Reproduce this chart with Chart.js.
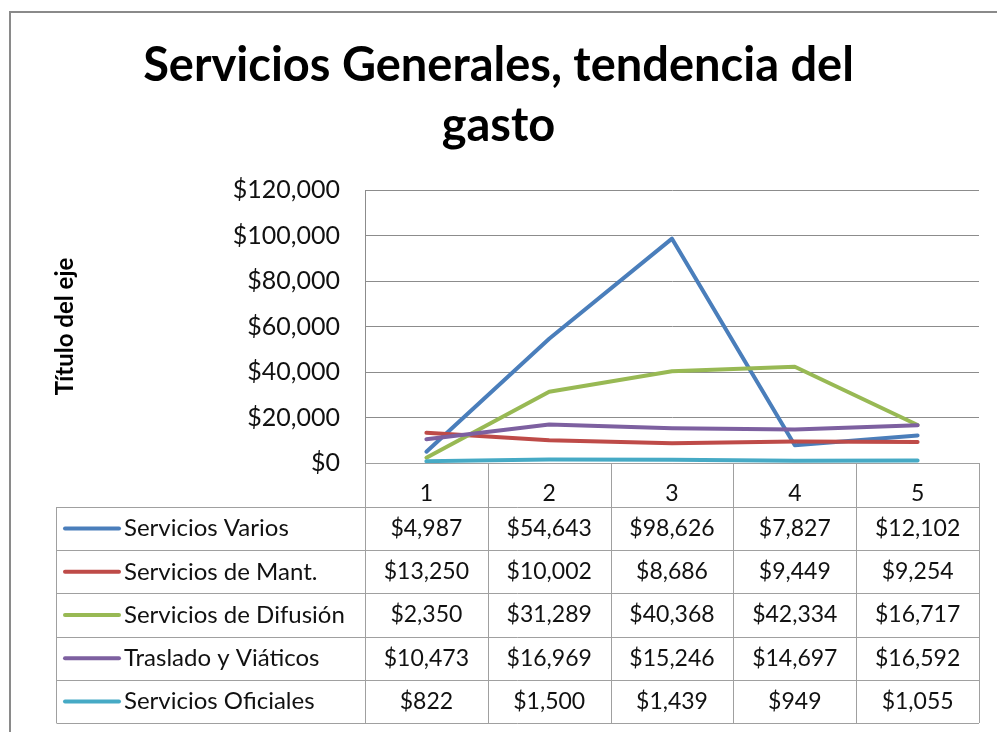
<!DOCTYPE html>
<html>
<head>
<meta charset="utf-8">
<script src="https://cdn.jsdelivr.net/npm/chart.js@4.4.0/dist/chart.umd.min.js"></script>
<style>
  html, body { margin: 0; padding: 0; background: #fff; }
  #wrap { position: relative; width: 997px; height: 732px; }
</style>
</head>
<body>
<div id="wrap"><canvas id="c" width="997" height="732"></canvas></div>
<script>
const categories = ['1', '2', '3', '4', '5'];
const seriesNames = ['Servicios Varios', 'Servicios de Mant.', 'Servicios de Difusión', 'Traslado y Viáticos', 'Servicios Oficiales'];
const serviciosVarios = [4987, 54643, 98626, 7827, 12102];
const serviciosMant = [13250, 10002, 8686, 9449, 9254];
const serviciosDifusion = [2350, 31289, 40368, 42334, 16717];
const trasladoViaticos = [10473, 16969, 15246, 14697, 16592];
const serviciosOficiales = [822, 1500, 1439, 949, 1055];
const seriesColors = ['#4A7EBB', '#BE4B48', '#98B954', '#7D60A0', '#46AAC5'];
const yTicks = [0, 20000, 40000, 60000, 80000, 100000, 120000];

const seriesValues = [serviciosVarios, serviciosMant, serviciosDifusion, trasladoViaticos, serviciosOficiales];
const FONT = 'Lato, "Open Sans", sans-serif';
const money = v => '$' + Number(v).toLocaleString('en-US');

const tablePlugin = {
  id: 'dataTable',
  beforeDraw(chart) {
    const ctx = chart.ctx;
    ctx.save();
    ctx.strokeStyle = '#8a8a8a';
    ctx.lineWidth = 2;
    ctx.strokeRect(10, 12, 1000, 800);
    ctx.restore();
  },
  afterDraw(chart) {
    const ctx = chart.ctx;
    const x = chart.scales.x;
    const area = chart.chartArea;
    const headTop = x.top;
    const headBottom = x.bottom;
    const rowH = 43.2;
    const tableLeft = 56.5;
    const n = seriesNames.length;
    const tableBottom = headBottom + rowH * n;
    const step = (area.right - area.left) / categories.length;
    ctx.save();
    ctx.strokeStyle = '#a0a0a0';
    ctx.lineWidth = 1;
    ctx.beginPath();
    for (let i = 0; i <= categories.length; i++) {
      const px = Math.round(area.left + i * step) + 0.5;
      ctx.moveTo(px, headTop);
      ctx.lineTo(px, tableBottom);
    }
    ctx.moveTo(tableLeft, headBottom);
    ctx.lineTo(tableLeft, tableBottom);
    for (let r = 0; r <= n; r++) {
      const py = Math.round(headBottom + r * rowH) + 0.5;
      ctx.moveTo(tableLeft, py);
      ctx.lineTo(area.right, py);
    }
    ctx.stroke();

    ctx.textBaseline = 'middle';
    for (let r = 0; r < n; r++) {
      const cy = headBottom + (r + 0.5) * rowH;
      ctx.strokeStyle = seriesColors[r];
      ctx.lineWidth = 4;
      ctx.lineCap = 'round';
      ctx.beginPath();
      ctx.moveTo(65, cy);
      ctx.lineTo(119, cy);
      ctx.stroke();
      ctx.fillStyle = '#111';
      ctx.textAlign = 'left';
      ctx.font = '24px ' + FONT;
      ctx.fillText(seriesNames[r], 124, cy);
      ctx.textAlign = 'center';
      ctx.font = '23px ' + FONT;
      seriesValues[r].forEach((v, i) => {
        ctx.fillText(money(v), x.getPixelForValue(i), cy);
      });
    }
    ctx.restore();
  }
};

const datasets = seriesNames.map((name, i) => ({
  label: name,
  data: seriesValues[i],
  borderColor: seriesColors[i],
  backgroundColor: seriesColors[i],
  borderWidth: 4,
  pointRadius: 0,
  pointHoverRadius: 0,
  tension: 0,
  borderCapStyle: 'round',
  borderJoinStyle: 'round',
  order: seriesNames.length - i
}));

new Chart(document.getElementById('c'), {
  type: 'line',
  data: { labels: categories, datasets },
  options: {
    responsive: false,
    animation: false,
    layout: { padding: { left: 18, right: 18, top: 0, bottom: 225 } },
    plugins: {
      legend: { display: false },
      tooltip: { enabled: false },
      title: {
        display: true,
        text: ['Servicios Generales, tendencia del', 'gasto'],
        color: '#000',
        font: { family: FONT, size: 47, weight: 'bold', lineHeight: 1.277 },
        padding: { top: 36, bottom: 34 }
      }
    },
    scales: {
      x: {
        offset: true,
        grid: { display: false, offset: true },
        border: { display: true, color: '#a0a0a0' },
        ticks: { color: '#111', font: { family: FONT, size: 23 }, padding: 9 },
        afterFit(s) { s.height = 44; }
      },
      y: {
        min: 0,
        max: 120000,
        afterBuildTicks(s) { s.ticks = yTicks.map(v => ({ value: v })); },
        grid: { color: '#8c8c8c', lineWidth: 1, drawTicks: false },
        border: { display: true, color: '#8c8c8c' },
        ticks: { color: '#111', font: { family: FONT, size: 25 }, padding: 25, callback: v => money(v) },
        title: {
          display: true,
          text: 'Título del eje',
          color: '#000',
          font: { family: FONT, size: 24, weight: 'bold', lineHeight: 1.2 },
          padding: { top: 33, bottom: 0 }
        },
        afterFit(s) { s.width = 347; }
      }
    }
  },
  plugins: [tablePlugin]
});
</script>
</body>
</html>
